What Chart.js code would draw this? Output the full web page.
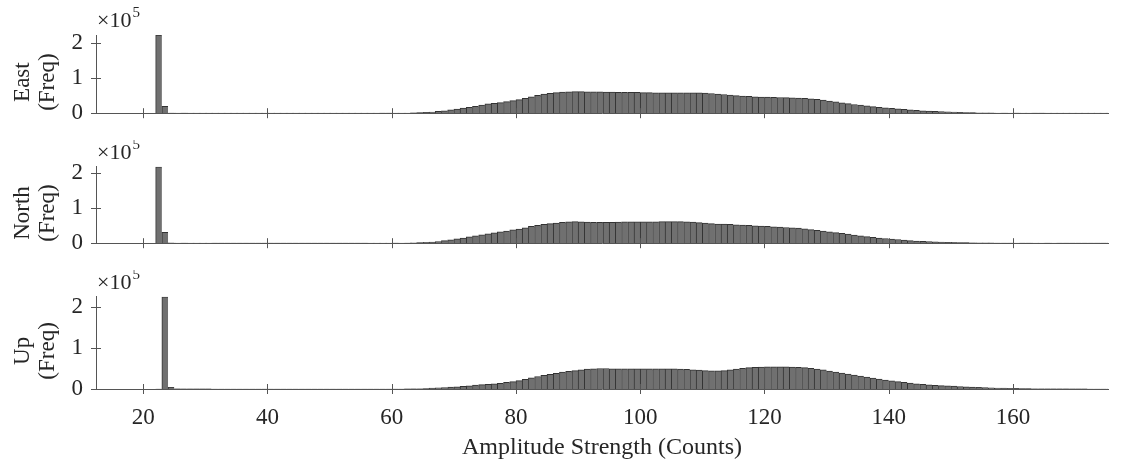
<!DOCTYPE html>
<html>
<head>
<meta charset="utf-8">
<script src="https://cdn.jsdelivr.net/npm/chart.js@4.4.0/dist/chart.umd.min.js"></script>
<style>
  html, body { margin: 0; padding: 0; background: #fff; }
  #wrap { position: relative; width: 1126px; height: 461px; }
  #wrap canvas { position: absolute; left: 0; }
</style>
</head>
<body>
<div id="wrap">
  <canvas id="east" width="1126" height="140" style="top:0px"></canvas>
  <canvas id="north" width="1126" height="130" style="top:140px"></canvas>
  <canvas id="up" width="1126" height="191" style="top:270px"></canvas>
</div>
<script>
// histogram bins are 1 count wide, first bin is [22, 23)
const binStart = 22;

const eastCounts = [
  224000, 20000, 600, 300, 200, 150, 150, 120, 120, 100,
  100, 100, 100, 100, 100, 100, 100, 100, 100, 100,
  100, 100, 100, 100, 100, 100, 100, 100, 100, 100,
  100, 100, 100, 100, 120, 150, 180, 220, 260, 300,
  500, 800, 1500, 2500, 3500, 5000, 7000, 9500, 12000, 14500,
  17000, 20000, 23500, 26500, 28500, 30500, 33000, 36000, 39000, 42500,
  47000, 51000, 54500, 57000, 59000, 60500, 61500, 62000, 62000, 61500,
  61000, 61000, 60500, 60500, 60000, 60000, 59500, 59500, 59000, 59000,
  58500, 58500, 58500, 58500, 58500, 58500, 58000, 58000, 57500, 56500,
  55000, 53500, 52000, 50500, 49000, 48000, 47000, 46500, 46000, 45500,
  45000, 44500, 44000, 43500, 42500, 41000, 39500, 37500, 35000, 32500,
  30000, 27500, 25000, 23000, 21000, 19000, 17000, 15500, 14000, 12500,
  11000, 9500, 8000, 7000, 6000, 5200, 4400, 3700, 3100, 2600,
  2100, 1700, 1400, 1100, 900, 700, 550, 450, 350, 300,
  250, 200, 180, 160, 140, 120, 100, 100, 100, 100,
  100, 100, 100, 100
];

const northCounts = [
  219000, 31000, 800, 300, 200, 150, 150, 120, 120, 100,
  100, 100, 100, 100, 100, 100, 100, 100, 100, 100,
  100, 100, 100, 100, 100, 100, 100, 100, 100, 100,
  100, 100, 100, 100, 120, 150, 180, 220, 260, 300,
  500, 900, 1500, 2300, 3500, 5000, 7500, 10000, 12500, 15000,
  18000, 21000, 24000, 27000, 30000, 32500, 35000, 38000, 40500, 44000,
  48000, 51500, 54000, 56000, 58000, 59500, 61000, 62000, 61500, 60500,
  60000, 59500, 59500, 60000, 60500, 61000, 61000, 61000, 61000, 61500,
  61500, 62000, 62000, 62000, 62000, 61500, 60500, 59000, 57500, 56000,
  55000, 54500, 54000, 53000, 52000, 51000, 50000, 49000, 48000, 47000,
  46000, 45000, 44000, 43000, 41000, 39000, 37000, 34500, 32500, 30500,
  28500, 26000, 23500, 21000, 19000, 17000, 15000, 13500, 12000, 10500,
  9000, 7500, 6200, 5200, 4400, 3800, 3300, 2800, 2400, 2000,
  1700, 1400, 1200, 1000, 800, 650, 500, 400, 300, 250,
  200, 180, 160, 140, 120, 100, 100, 100, 100, 100,
  100, 100, 100, 100
];

const upCounts = [
  100, 225000, 4000, 300, 200, 150, 150, 120, 120, 100,
  100, 100, 100, 100, 100, 100, 100, 100, 100, 100,
  100, 100, 100, 100, 100, 100, 100, 100, 100, 100,
  100, 100, 100, 100, 100, 100, 100, 100, 100, 100,
  200, 400, 700, 1200, 2000, 2800, 3600, 4500, 5500, 6800,
  8000, 9300, 10500, 11500, 12500, 14000, 16000, 18000, 20500, 23500,
  27000, 30500, 33500, 36000, 38500, 41000, 43000, 45000, 47000, 48500,
  49500, 50000, 50000, 49500, 49000, 49000, 49000, 49000, 49000, 49000,
  49000, 49000, 49000, 49000, 48500, 48000, 47000, 46000, 45000, 44500,
  44500, 45000, 46500, 48500, 50500, 52000, 53000, 53500, 54000, 54000,
  54000, 54000, 53500, 53000, 52000, 50500, 48500, 46500, 44000, 41500,
  39000, 36500, 34000, 31500, 29000, 26500, 24000, 22000, 20000, 18000,
  16000, 14300, 12800, 11400, 10200, 9200, 8400, 7600, 7000, 6200,
  5500, 4800, 4200, 3600, 3000, 2500, 2000, 1700, 1400, 1100,
  900, 700, 550, 450, 350, 300, 250, 200, 150, 120,
  100, 100, 100, 100
];

const xTicks = [20, 40, 60, 80, 100, 120, 140, 160];
const yTicks = [0, 100000, 200000];
const xMin = 12.4, xMax = 175.3;

const textColor = '#262626';
const axisColor = '#555';
const serif = '"Liberation Serif", "Times New Roman", serif';

Chart.defaults.font.family = serif;
Chart.defaults.font.size = 23;
Chart.defaults.color = textColor;

// MATLAB style ticks that cross the axis line, the x10^5 exponent
// and the two-line y label (sits a little below the axis middle)
const axisMarks = {
  id: 'axisMarks',
  afterDraw(chart) {
    const ctx = chart.ctx;
    const a = chart.chartArea;
    const x = chart.scales.x, y = chart.scales.y;
    ctx.save();
    ctx.strokeStyle = axisColor;
    ctx.lineWidth = 1;
    ctx.beginPath();
    xTicks.forEach(v => {
      const px = Math.round(x.getPixelForValue(v)) + 0.5;
      ctx.moveTo(px, a.bottom - 5);
      ctx.lineTo(px, a.bottom + 5);
    });
    yTicks.forEach(v => {
      const py = Math.round(y.getPixelForValue(v)) + 0.5;
      ctx.moveTo(a.left - 5, py);
      ctx.lineTo(a.left + 5, py);
    });
    ctx.stroke();

    ctx.fillStyle = textColor;
    ctx.textBaseline = 'alphabetic';
    ctx.textAlign = 'left';
    ctx.font = '22px ' + serif;
    ctx.fillText('\u00d710', a.left + 1, a.top - 8);
    const w = ctx.measureText('\u00d710').width;
    ctx.font = '15px ' + serif;
    ctx.fillText('5', a.left + 2 + w, a.top - 18);

    const yLabel = chart.options.plugins.axisMarks.yLabel;
    const cy = (a.top + a.bottom) / 2 + 8;
    ctx.font = '23px ' + serif;
    ctx.textAlign = 'center';
    ctx.textBaseline = 'middle';
    [[yLabel, 23], ['(Freq)', 48]].forEach(([t, cx]) => {
      ctx.save();
      ctx.translate(cx, cy);
      ctx.rotate(-Math.PI / 2);
      ctx.fillText(t, 0, 0);
      ctx.restore();
    });
    ctx.restore();
  }
};

function makePanel(id, name, counts, padTop, xHeight, showX) {
  const points = counts.map((c, i) => ({ x: binStart + i + 0.5, y: c }));
  return new Chart(document.getElementById(id), {
    type: 'bar',
    data: {
      datasets: [{
        label: name,
        data: points,
        backgroundColor: '#707070',
        borderColor: '#333',
        borderWidth: { top: 1, left: 1, right: 0, bottom: 0 },
        borderSkipped: false,
        barPercentage: 1,
        categoryPercentage: 1,
        grouped: false
      }]
    },
    options: {
      responsive: false,
      animation: false,
      events: [],
      layout: { autoPadding: false, padding: { top: padTop, left: 0, right: 18, bottom: 0 } },
      plugins: {
        legend: { display: false },
        tooltip: { enabled: false },
        axisMarks: { yLabel: name }
      },
      scales: {
        x: {
          type: 'linear',
          offset: false,
          min: xMin,
          max: xMax,
          afterBuildTicks: s => { s.ticks = xTicks.map(v => ({ value: v })); },
          afterFit: s => { s.height = xHeight; },
          grid: { display: false, drawTicks: false },
          border: { display: true, color: axisColor, width: 1 },
          ticks: { display: showX, padding: 15, maxRotation: 0, color: textColor },
          title: {
            display: showX,
            text: 'Amplitude Strength (Counts)',
            color: textColor,
            font: { size: 24, lineHeight: 1.1 },
            padding: { top: 0, bottom: 0 }
          }
        },
        y: {
          min: 0,
          max: Math.max(...counts),
          afterBuildTicks: s => { s.ticks = yTicks.map(v => ({ value: v })); },
          afterFit: s => { s.width = 96; },
          grid: { display: false, drawTicks: false },
          border: { display: true, color: axisColor, width: 1 },
          ticks: { padding: 13, color: textColor, callback: v => String(v / 100000) }
        }
      }
    },
    plugins: [axisMarks]
  });
}

makePanel('east', 'East', eastCounts, 35, 13, false);
makePanel('north', 'North', northCounts, 25, 13, false);
makePanel('up', 'Up', upCounts, 26, 72, true);
</script>
</body>
</html>
